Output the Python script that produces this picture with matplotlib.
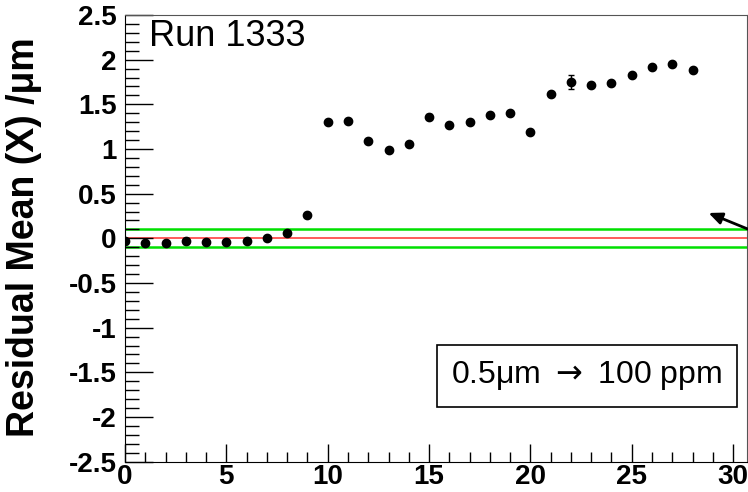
import matplotlib
matplotlib.use("Agg")
import matplotlib.pyplot as plt
from matplotlib.ticker import MultipleLocator

plt.rcParams['font.family'] = ['Liberation Sans', 'DejaVu Sans']

# Datos
runs = list(range(29))
residual_mean = [-0.026, -0.048, -0.048, -0.026, -0.04, -0.04, -0.026, 0.008, 0.064, 0.262,
                 1.30, 1.315, 1.09, 0.986, 1.057, 1.363, 1.27, 1.303, 1.385, 1.408,
                 1.188, 1.617, 1.748, 1.714, 1.737, 1.83, 1.923, 1.949, 1.889]
residual_err = [0.015, 0.015, 0.015, 0.035, 0.015, 0.015, 0.02, 0.015, 0.02, 0.02,
                0.02, 0.025, 0.02, 0.015, 0.015, 0.025, 0.015, 0.015, 0.015, 0.02,
                0.015, 0.015, 0.08, 0.015, 0.015, 0.015, 0.015, 0.02, 0.015]
banda = [-0.1, 0.1]
ytick_vals = [-2.5, -2, -1.5, -1, -0.5, 0, 0.5, 1, 1.5, 2, 2.5]
ytick_txt = ['-2.5', '-2', '-1.5', '-1', '-0.5', '0', '0.5', '1', '1.5', '2', '2.5']
xtick_vals = [0, 5, 10, 15, 20, 25, 30]
etiqueta_run = "Run 1333"
etiqueta_caja = "0.5\u03bcm $\\rightarrow$ 100 ppm"

fig = plt.figure(figsize=(7.48, 4.92), dpi=100)
ax = fig.add_axes([0.1671, 0.0616, 0.8309, 0.9079])

ax.axhline(0.0, color='#ff4040', linewidth=1.2, zorder=1)
for b in banda:
    ax.axhline(b, color='#00e000', linewidth=1.8, zorder=1)

ax.errorbar(runs, residual_mean, yerr=residual_err, fmt='o', color='black',
            markersize=6, elinewidth=1, capsize=2, capthick=1, zorder=3)

ax.set_xlim(0, 30.66)
ax.set_ylim(-2.5, 2.5)
ax.xaxis.set_minor_locator(MultipleLocator(1))
ax.yaxis.set_minor_locator(MultipleLocator(0.1))
ax.set_yticks(ytick_vals)
ax.set_yticklabels(ytick_txt)
ax.set_xticks(xtick_vals)

ax.tick_params(axis='y', which='major', direction='in', length=20, width=1, pad=6,
               labelsize=20)
ax.tick_params(axis='y', which='minor', direction='in', length=10, width=1)
ax.tick_params(axis='x', which='major', direction='in', length=13, width=1, pad=2,
               labelsize=20)
ax.tick_params(axis='x', which='minor', direction='in', length=7, width=1)
for lbl in ax.get_xticklabels() + ax.get_yticklabels():
    lbl.set_fontweight('bold')

ax.spines['top'].set_color('#555555')
ax.spines['right'].set_color('#555555')

fig.text(24 / 748, 255 / 492, "Residual Mean (X) /\u03bcm", rotation=90,
         ha='center', va='center', fontsize=27, fontweight='bold')

ax.text(1.2, 2.45, etiqueta_run, fontsize=26, ha='left', va='top')

ax.text(0.743, 0.192, etiqueta_caja, transform=ax.transAxes, fontsize=23,
        ha='center', va='center',
        bbox=dict(boxstyle='square,pad=0.45', facecolor='white', edgecolor='black',
                  linewidth=1.2))

ax.annotate('', xy=(28.66, 0.296), xytext=(31.2, 0.06),
            arrowprops=dict(arrowstyle='-|>,head_length=0.8,head_width=0.35',
                            color='black', linewidth=2),
            annotation_clip=False)

fig.savefig('out.png', dpi=100)
